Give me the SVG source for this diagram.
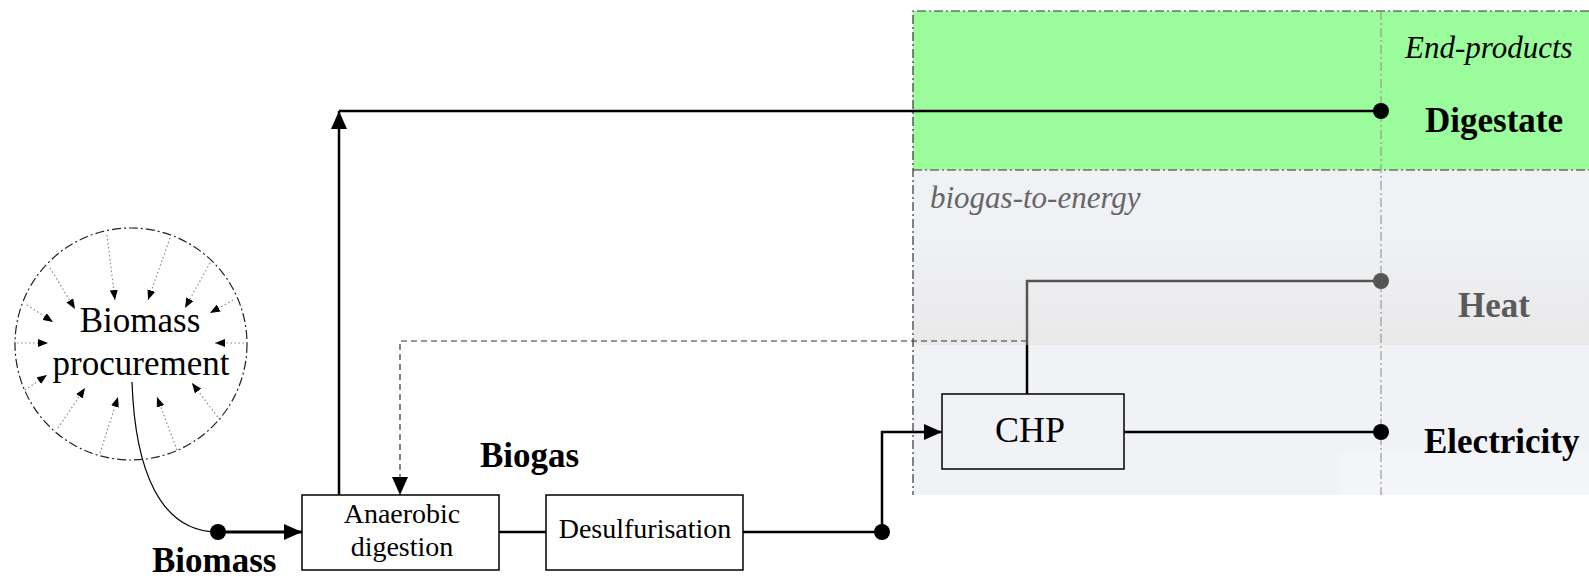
<svg xmlns="http://www.w3.org/2000/svg" width="1589" height="579" viewBox="0 0 1589 579">
<style>
.t{font-family:"Liberation Serif","Times New Roman",serif;fill:#000}
.b{font-weight:bold;font-size:35px}
.box{fill:#fff;stroke:#000;stroke-width:1.5}
.ln{fill:none;stroke:#000;stroke-width:2.5}
.dd{fill:none;stroke:#333;stroke-width:1.2;stroke-dasharray:9,3,2,3}
.dl{fill:none;stroke:#999;stroke-width:1.2;stroke-dasharray:9,3,2,3}
.dot{fill:none;stroke:#888;stroke-width:1.2;stroke-dasharray:1.5,2.5}
</style>
<defs>
<marker id="ab" viewBox="0 0 18 16" refX="18" refY="8" markerWidth="18" markerHeight="16" markerUnits="userSpaceOnUse" orient="auto"><path d="M0,0 L18,8 L0,16 z" fill="#000"/></marker>
<marker id="as" viewBox="0 0 10 8" refX="10" refY="4" markerWidth="10" markerHeight="8" markerUnits="userSpaceOnUse" orient="auto"><path d="M0,0 L10,4 L0,8 z" fill="#000"/></marker>
<linearGradient id="hb" x1="0" y1="0" x2="0" y2="1"><stop offset="0" stop-color="#eff0f3"/><stop offset="1" stop-color="#e9e9ea"/></linearGradient>
</defs>
<g id="background">
<rect x="913" y="11" width="676" height="159" fill="#9afc9a"/>
<rect x="913" y="170" width="676" height="325" fill="#eff1f5"/>
<rect x="913" y="245" width="676" height="100" fill="url(#hb)"/>
<rect x="913" y="345" width="676" height="150" fill="#f1f2f6"/>
<rect x="1340" y="453" width="249" height="42" fill="#f4f5f8"/>
<path class="dd" d="M1589,11 L913,11 L913,495"/>
<path class="dd" d="M913,170 L1589,170"/>
<path class="dl" d="M1381,11 L1381,495"/>
<text class="t" x="1405" y="58" font-size="31" font-style="italic">End-products</text>
<text class="t" x="930" y="208" font-size="31" font-style="italic" style="fill:#666">biogas-to-energy</text>
</g>
<g id="connectors">
<path class="ln" d="M339,495 L339,111" marker-end="url(#ab)"/>
<path class="ln" d="M339,111 L1381,111"/>
<circle cx="1381" cy="111" r="8" fill="#000"/>
<path d="M1027,341 L400,341 L400,495" fill="none" stroke="#333" stroke-width="1.2" stroke-dasharray="6,4" marker-end="url(#ab)"/>
<path d="M1027,345 L1027,281 L1381,281" fill="none" stroke="#555" stroke-width="2.5"/>
<path class="ln" d="M1027,394 L1027,345"/>
<circle cx="1381" cy="281" r="8" fill="#555"/>
<path class="ln" d="M1124,432 L1381,432"/>
<circle cx="1381" cy="432" r="8" fill="#000"/>
<path class="ln" d="M499,532 L546,532"/>
<path class="ln" d="M743,532 L882,532 L882,432 L942,432" marker-end="url(#ab)"/>
<circle cx="882" cy="532" r="8" fill="#000"/>
<path d="M132,382 C135,470 160,532 218,532" fill="none" stroke="#000" stroke-width="1.2"/>
<path d="M218,532 L302,532" fill="none" stroke="#000" stroke-width="3.2" marker-end="url(#ab)"/>
<circle cx="218" cy="532" r="8" fill="#000"/>
</g>
<g id="procurement">
<circle cx="131" cy="344" r="116" fill="none" stroke="#222" stroke-width="1.2" stroke-dasharray="9,3,2,3"/>
<g marker-end="url(#as)">
<path class="dot" d="M107,235 L115,300"/>
<path class="dot" d="M170,238 L148,300"/>
<path class="dot" d="M50,268 L75,309"/>
<path class="dot" d="M210,263 L185,308"/>
<path class="dot" d="M27,305 L53,322"/>
<path class="dot" d="M233,300 L210,313"/>
<path class="dot" d="M17,343 L48,343"/>
<path class="dot" d="M248,343 L215,343"/>
<path class="dot" d="M25,390 L47,375"/>
<path class="dot" d="M220,420 L192,383"/>
<path class="dot" d="M58,428 L85,388"/>
<path class="dot" d="M100,453 L118,397"/>
<path class="dot" d="M177,450 L157,397"/>
</g>
<text class="t" x="140" y="332" font-size="35" text-anchor="middle">Biomass</text>
<text class="t" x="141" y="375" font-size="35" text-anchor="middle">procurement</text>
</g>
<g id="label-biomass"><text class="t b" x="152" y="572">Biomass</text></g>
<g id="anaerobic">
<rect class="box" x="302" y="495" width="197" height="75"/>
<text class="t" x="402" y="523" font-size="28" text-anchor="middle">Anaerobic</text>
<text class="t" x="402" y="556" font-size="28" text-anchor="middle">digestion</text>
</g>
<g id="desulfurisation">
<rect class="box" x="546" y="495" width="197" height="75"/>
<text class="t" x="645" y="538" font-size="28" text-anchor="middle">Desulfurisation</text>
</g>
<g id="label-biogas"><text class="t b" x="480" y="467">Biogas</text></g>
<g id="chp">
<rect x="942" y="394" width="182" height="75" fill="none" stroke="#000" stroke-width="1.5"/>
<text class="t" x="1030" y="442" font-size="36" text-anchor="middle">CHP</text>
</g>
<g id="digestate"><text class="t b" x="1425" y="132">Digestate</text></g>
<g id="heat"><text class="t b" x="1458" y="317" style="fill:#5a5a5a">Heat</text></g>
<g id="electricity"><text class="t b" x="1424" y="453">Electricity</text></g>
</svg>
